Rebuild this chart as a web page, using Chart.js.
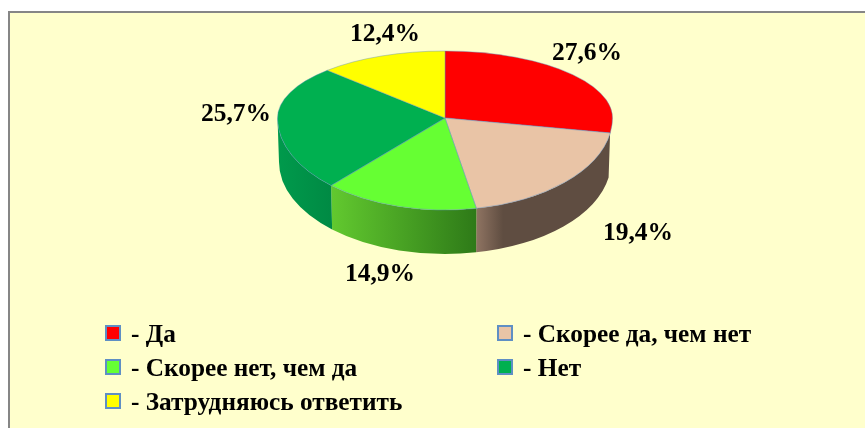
<!DOCTYPE html>
<html>
<head>
<meta charset="utf-8">
<script src="https://cdn.jsdelivr.net/npm/chart.js@4"></script>
<style>
    html, body { margin: 0; padding: 0; background: #fff; overflow: hidden; width: 865px; height: 428px; }
    #frame { position: absolute; left: 8px; top: 11px; width: 1000px; height: 1000px; background: #ffffcc; border: 2px solid #868686; }
    #wrap { position: absolute; left: 0; top: 0; width: 865px; height: 428px; }
</style>
</head>
<body>
<div id="frame"></div>
<div id="wrap"><canvas id="myChart" width="865" height="428"></canvas></div>
<script>
var categories = ['Да', 'Скорее да, чем нет', 'Скорее нет, чем да', 'Нет', 'Затрудняюсь ответить'];
var values = [27.6, 19.4, 14.9, 25.7, 12.4];

var colors = ['#ff0000', '#e9c4a6', '#66ff33', '#00b050', '#ffff00'];
// wall shading, left to right
var wallColors = [
    ['#a00000', '#900000'],
    ['#8f7462', '#5f4d41'],
    ['#62c92f', '#2e7a18'],
    ['#009a4c', '#008a44'],
    ['#a0a000', '#a0a000']
];

// where the percent labels sit (centre of text)
var labelPos = [[587, 53], [638, 233], [380, 274], [236, 114], [385, 34]];
// legend cells
var legendPos = [[106, 333], [498, 333], [106, 367], [498, 367], [106, 401]];

// the pie looks tilted: apex is above the middle of the ellipse
var apexY = 118, ryTop = 67, ryBottom = 92, depth = 44, bottomRx = 166;
var wallStart = 0.17; // wall only shows a little below the widest point on the right
var labelFont = 'bold 25.5px "Liberation Serif"';
var legendFont = 'bold 25.3px "Liberation Serif"';

function tilt(ctx, arc, top) {
    ctx.save();
    ctx.beginPath();
    if (top) ctx.rect(0, 0, 865, apexY);
    else ctx.rect(0, apexY, 865, 428 - apexY);
    ctx.clip();
    ctx.translate(0, apexY);
    ctx.scale(1, (top ? ryTop : ryBottom) / arc.outerRadius);
    ctx.translate(0, -arc.y);
}

var pie3d = {
    id: 'pie3d',
    beforeDatasetsDraw: function (chart) {
        var ctx = chart.ctx;
        var arcs = chart.getDatasetMeta(0).data;
        // side wall, only the front half shows
        arcs.forEach(function (arc, i) {
            var a1 = Math.max(arc.startAngle, wallStart);
            var a2 = Math.min(arc.endAngle, Math.PI);
            if (a2 <= a1) return;
            var R = arc.outerRadius;
            var x1 = arc.x + R * Math.cos(a2), x2 = arc.x + R * Math.cos(a1);
            var g = ctx.createLinearGradient(x1, 0, x2, 0);
            g.addColorStop(0, wallColors[i][0]);
            g.addColorStop(i == 1 ? 0.2 : 1, wallColors[i][1]);
            if (i == 1) g.addColorStop(1, wallColors[i][1]);
            ctx.beginPath();
            ctx.ellipse(arc.x, apexY, R, ryBottom, 0, a1, a2);
            ctx.ellipse(arc.x, apexY + depth, bottomRx, ryBottom, 0, a2, a1, true);
            ctx.closePath();
            ctx.fillStyle = g;
            ctx.fill();
        });
        // lower half of the top face, upper half is left to the chart itself
        tilt(ctx, arcs[0], false);
        arcs.forEach(function (arc) { arc.draw(ctx); });
        ctx.restore();
        tilt(ctx, arcs[0], true);
    },
    afterDatasetsDraw: function (chart) {
        var ctx = chart.ctx;
        ctx.restore();

        ctx.font = labelFont;
        ctx.fillStyle = '#000';
        ctx.textBaseline = 'middle';
        ctx.textAlign = 'center';
        values.forEach(function (v, i) {
            ctx.fillText(v.toFixed(1).replace('.', ',') + '%', labelPos[i][0], labelPos[i][1]);
        });

        // legend in two columns
        ctx.font = legendFont;
        ctx.textAlign = 'left';
        categories.forEach(function (name, i) {
            var x = legendPos[i][0], y = legendPos[i][1];
            ctx.fillStyle = colors[i];
            ctx.fillRect(x, y - 7, 14, 14);
            ctx.strokeStyle = '#5f8fc4';
            ctx.lineWidth = 2;
            ctx.strokeRect(x, y - 7, 14, 14);
            ctx.fillStyle = '#000';
            ctx.fillText('- ' + name, x + 25, y + 2);
        });
    }
};

new Chart(document.getElementById('myChart'), {
    type: 'pie',
    data: {
        labels: categories,
        datasets: [{
            data: values,
            backgroundColor: colors,
            borderColor: 'rgba(95,143,196,0.6)',
            borderWidth: 1,
            clip: false
        }]
    },
    options: {
        responsive: false,
        animation: false,
        layout: { padding: { left: 277, right: 252, top: 0, bottom: 0 } },
        plugins: {
            legend: { display: false },
            tooltip: { enabled: false }
        }
    },
    plugins: [pie3d]
});
</script>
</body>
</html>
